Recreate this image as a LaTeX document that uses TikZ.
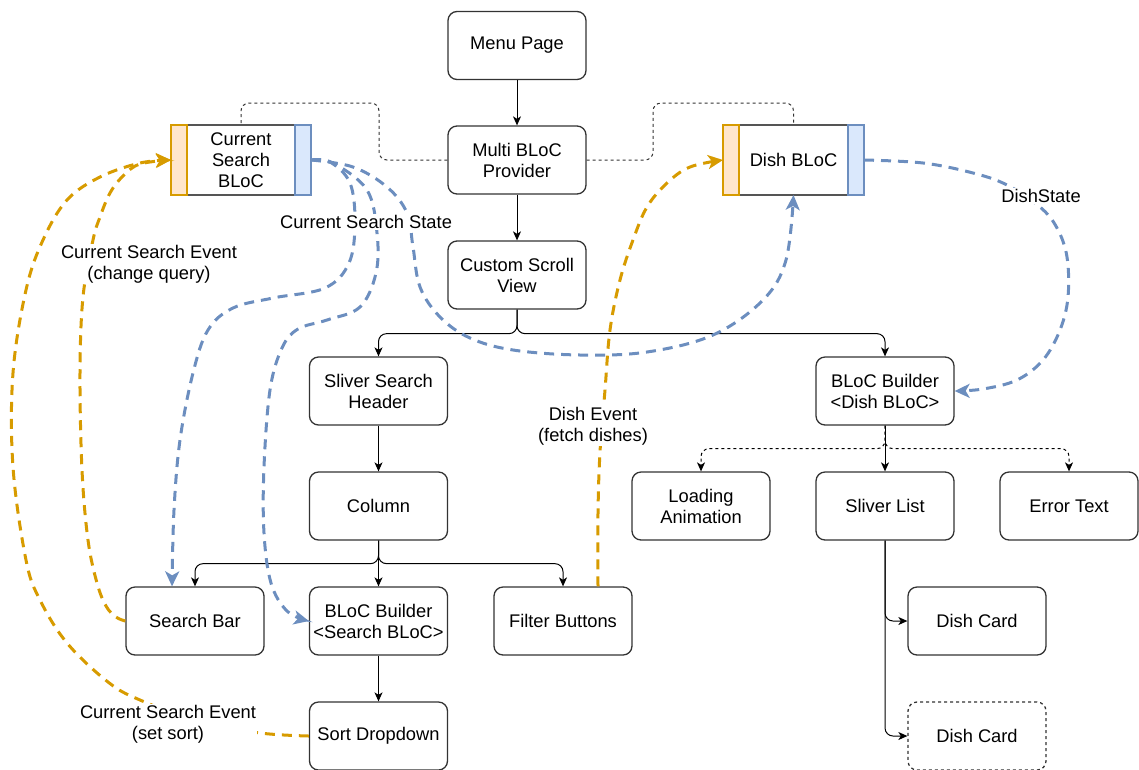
\documentclass[tikz,border=0pt]{standalone}
\usepackage{fontspec}
\setmainfont{Liberation Sans}
\usetikzlibrary{arrows.meta}

\definecolor{boxline}{HTML}{333333}
\definecolor{blocline}{HTML}{555555}
\definecolor{blueline}{HTML}{6C8EBF}
\definecolor{bluefill}{HTML}{DAE8FC}
\definecolor{orangeline}{HTML}{D79B00}
\definecolor{orangefill}{HTML}{FFE6CC}

\tikzset{
  box/.style={draw=boxline, line width=1.3pt, rounded corners=9pt, fill=white,
    minimum width=138pt, minimum height=68pt, align=center, inner sep=1pt},
  blocbody/.style={draw=blocline, line width=1.3pt, fill=white, outer sep=0pt,
    minimum height=70pt, align=center, inner sep=1pt},
  sinkstrip/.style={draw=orangeline, fill=orangefill, line width=1.3pt, outer sep=0pt,
    minimum width=16pt, minimum height=70pt, inner sep=0pt},
  srcstrip/.style={draw=blueline, fill=bluefill, line width=1.3pt, outer sep=0pt,
    minimum width=16pt, minimum height=70pt, inner sep=0pt},
  tree/.style={draw=black, line width=1pt, rounded corners=8pt,
    -{Stealth[length=9pt,width=8pt,inset=2.5pt]}},
  opt/.style={tree, dash pattern=on 3pt off 3pt},
  link/.style={draw=boxline, line width=1pt, rounded corners=8pt,
    dash pattern=on 3pt off 3pt},
  stateflow/.style={draw=blueline, line width=3pt, dash pattern=on 10pt off 7pt,
    -{Stealth[length=15pt,width=14pt,inset=4pt]}},
  eventflow/.style={draw=orangeline, line width=3pt, dash pattern=on 10pt off 7pt,
    -{Stealth[length=15pt,width=14pt,inset=4pt]}},
  lab/.style={fill=white, inner sep=1pt, align=center},
}

\begin{document}
\begin{tikzpicture}[x=1pt, y=-1pt, font=\fontsize{18.3}{21}\selectfont]
\useasboundingbox (0,0) rectangle (1139,769);

% widgets
\node[box] (menu) at (517,45.5) {Menu Page};
\node[box] (mbp)  at (517,160) {Multi BLoC\\Provider};
\node[box] (csv)  at (517,275) {Custom Scroll\\View};
\node[box] (ssh)  at (378.5,391) {Sliver Search\\Header};
\node[box] (bbd)  at (885,391) {BLoC Builder\\<Dish BLoC>};
\node[box] (col)  at (378.5,506) {Column};
\node[box] (load) at (701,506) {Loading\\Animation};
\node[box] (sl)   at (885,506) {Sliver List};
\node[box] (err)  at (1069,506) {Error Text};
\node[box] (sb)   at (195,621) {Search Bar};
\node[box] (bbs)  at (378.5,621) {BLoC Builder\\<Search BLoC>};
\node[box] (fb)   at (563,621) {Filter Buttons};
\node[box] (sd)   at (378.5,736) {Sort Dropdown};
\node[box] (dc1)  at (977,621) {Dish Card};
\node[box, dash pattern=on 3pt off 3pt] (dc2) at (977,736) {Dish Card};

% blocs: event input on the left, state output on the right
\node[blocbody, minimum width=108pt] (csb) at (241,160) {Current\\Search\\BLoC};
\node[sinkstrip, anchor=east] (csbL) at (csb.west) {};
\node[srcstrip, anchor=west] (csbR) at (csb.east) {};
\node[blocbody, minimum width=109pt] (dish) at (793.5,160) {Dish BLoC};
\node[sinkstrip, anchor=east] (dishL) at (dish.west) {};
\node[srcstrip, anchor=west] (dishR) at (dish.east) {};

% providers
\draw[link] (mbp.west) -- (379,160) -- (379,103) -- (241,103) -- (csb.north);
\draw[link] (mbp.east) -- (653,160) -- (653,103) -- (793.5,103) -- (dish.north);

% widget tree
\draw[tree] (menu) -- (mbp);
\draw[tree] (mbp) -- (csv);
\draw[tree] (csv.south) -- ++(0,24) -| (ssh.north);
\draw[tree] (csv.south) -- ++(0,24) -| (bbd.north);
\draw[tree] (ssh) -- (col);
\draw[tree] (col.south) -- ++(0,23) -| (sb.north);
\draw[tree] (col) -- (bbs);
\draw[tree] (col.south) -- ++(0,23) -| (fb.north);
\draw[tree] (bbs) -- (sd);
\draw[tree] (bbd) -- (sl);
\draw[opt] (bbd.south) -- ++(0,23) -| (load.north);
\draw[opt] (bbd.south) -- ++(0,23) -| (err.north);
\draw[tree] (sl.south) |- (dc1.west);
\draw[tree] (sl.south) |- (dc2.west);

% state streams
\draw[stateflow] plot[smooth, tension=0.6] coordinates {(csbR.east) (330,162) (350,183)
  (355,223) (349,263) (325,288) (273,298) (233,308) (208,330) (193,373) (180,440)
  (174,510) ([xshift=-23pt]sb.north)};
\draw[stateflow] plot[smooth, tension=0.6] coordinates {(csbR.east) (333,163) (367,190)
  (377,233) (376,273) (360,307) (327,320) (298,329) (282,348) (270,390) (264,467)
  (264,533) (271,583) (287,611) (bbs.west)};
\draw[stateflow] plot[smooth, tension=0.6] coordinates {(csbR.east) (353,167) (387,187)
  (407,213) (413,247) (420,287) (440,317) (470,338) (513,350) (580,355) (647,352)
  (713,335) (763,300) (786,260) (dish.south)};
\draw[stateflow] plot[smooth, tension=0.6] coordinates {(dishR.east) (923,163) (973,173)
  (1007,185) (1040,207) (1057,228) (1067,257) (1068,297) (1060,330) (1043,360)
  (1017,380) (983,389) (bbd.east)};

% event streams
\draw[eventflow] plot[smooth, tension=0.6] coordinates {(sb.west) (116,617) (106,606)
  (97,583) (88,540) (82,470) (80,373) (83,297) (93,240) (100,217) (110,193)
  (123,176) (140,164) (csbL.west)};
\draw[eventflow] plot[smooth, tension=0.6] coordinates {(sd.west) (260,733) (200,722)
  (140,700) (108,682) (67,643) (40,600) (26,560) (13,467) (13,373) (26,290) (43,240)
  (67,200) (100,177) (140,163) (csbL.west)};
\draw[eventflow] plot[smooth, tension=0.6] coordinates {([xshift=35pt]fb.north)
  (598,513) (600,452) (605,390) (610,330) (620,280) (633,240) (647,207) (667,183)
  (690,167) (dishL.west)};

% stream labels
\node[lab] (lstate) at (366,222) {Current Search State};
\node[lab] (lquery) at (149,264) {Current Search Event\\(change query)};
\node[lab] (lsort)  at (168,724) {Current Search Event\\(set sort)};
\node[lab] (lfetch) at (593,426) {Dish Event\\(fetch dishes)};
\node[lab] (ldish)  at (1041,196) {DishState};
\end{tikzpicture}
\end{document}
